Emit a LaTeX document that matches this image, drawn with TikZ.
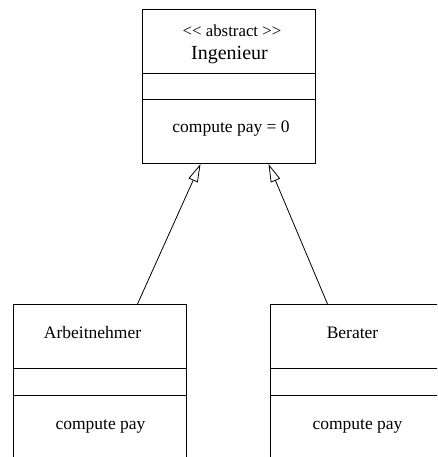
\documentclass[tikz,border=0pt]{standalone}
\usepackage{fontspec}
\setmainfont{Liberation Serif}
\usetikzlibrary{arrows.meta,calc}
\tikzset{
  classbox/.style={draw, rectangle, anchor=north west, inner sep=0pt, minimum width=173pt},
  classtext/.style={anchor=base, inner sep=0pt, font=\fontsize{17.5}{20}\selectfont},
  inherits/.style={line width=0.8pt, -{Triangle[open, length=18pt, width=10pt]}}
}

\begin{document}
\begin{tikzpicture}[x=1pt, y=-1pt, line width=1pt]
\useasboundingbox (0,0) rectangle (437,457);
\clip (0,0) rectangle (437,457);
% Classes
    \node[classbox, minimum height=154pt] (ing) at (142,9) {};
    \node[classbox, minimum height=170pt] (arb) at (13,304) {};
    \node[classbox, minimum height=170pt] (ber) at (270,304) {};
% Compartments
    \draw ($(ing.north west)+(0,65)$) -- ($(ing.north east)+(0,65)$);
    \draw ($(ing.north west)+(0,91)$) -- ($(ing.north east)+(0,91)$);
    \draw ($(arb.north west)+(0,64)$) -- ($(arb.north east)+(0,64)$);
    \draw ($(arb.north west)+(0,91)$) -- ($(arb.north east)+(0,91)$);
    \draw ($(ber.north west)+(0,64)$) -- ($(ber.north east)+(0,64)$);
    \draw ($(ber.north west)+(0,91)$) -- ($(ber.north east)+(0,91)$);
% Names and operations
    \node[classtext, font=\fontsize{16.8}{19}\selectfont] (ingster) at ($(ing.north)+(3,28)$) {<\kern0pt< abstract >\kern0pt>};
    \node[classtext, font=\fontsize{20}{23}\selectfont] (ingname) at ($(ing.north)+(0.5,51)$) {Ingenieur};
    \node[classtext] (ingop) at ($(ing.north)+(2,124)$) {compute pay = 0};
    \node[classtext] (arbname) at ($(arb.north)+(-7.5,34)$) {Arbeitnehmer};
    \node[classtext] (arbop) at ($(arb.north)+(0.5,125)$) {compute pay};
    \node[classtext] (bername) at ($(ber.north)+(-4.5,34)$) {Berater};
    \node[classtext] (berop) at ($(ber.north)+(0.5,125)$) {compute pay};
% Generalisations
    \draw[inherits] ($(arb.north)+(37.5,0)$) -- ($(ing.south)+(-28.5,0)$);
    \draw[inherits] ($(ber.north)+(-29.5,0)$) -- ($(ing.south)+(39.5,0)$);
\end{tikzpicture}
\end{document}
